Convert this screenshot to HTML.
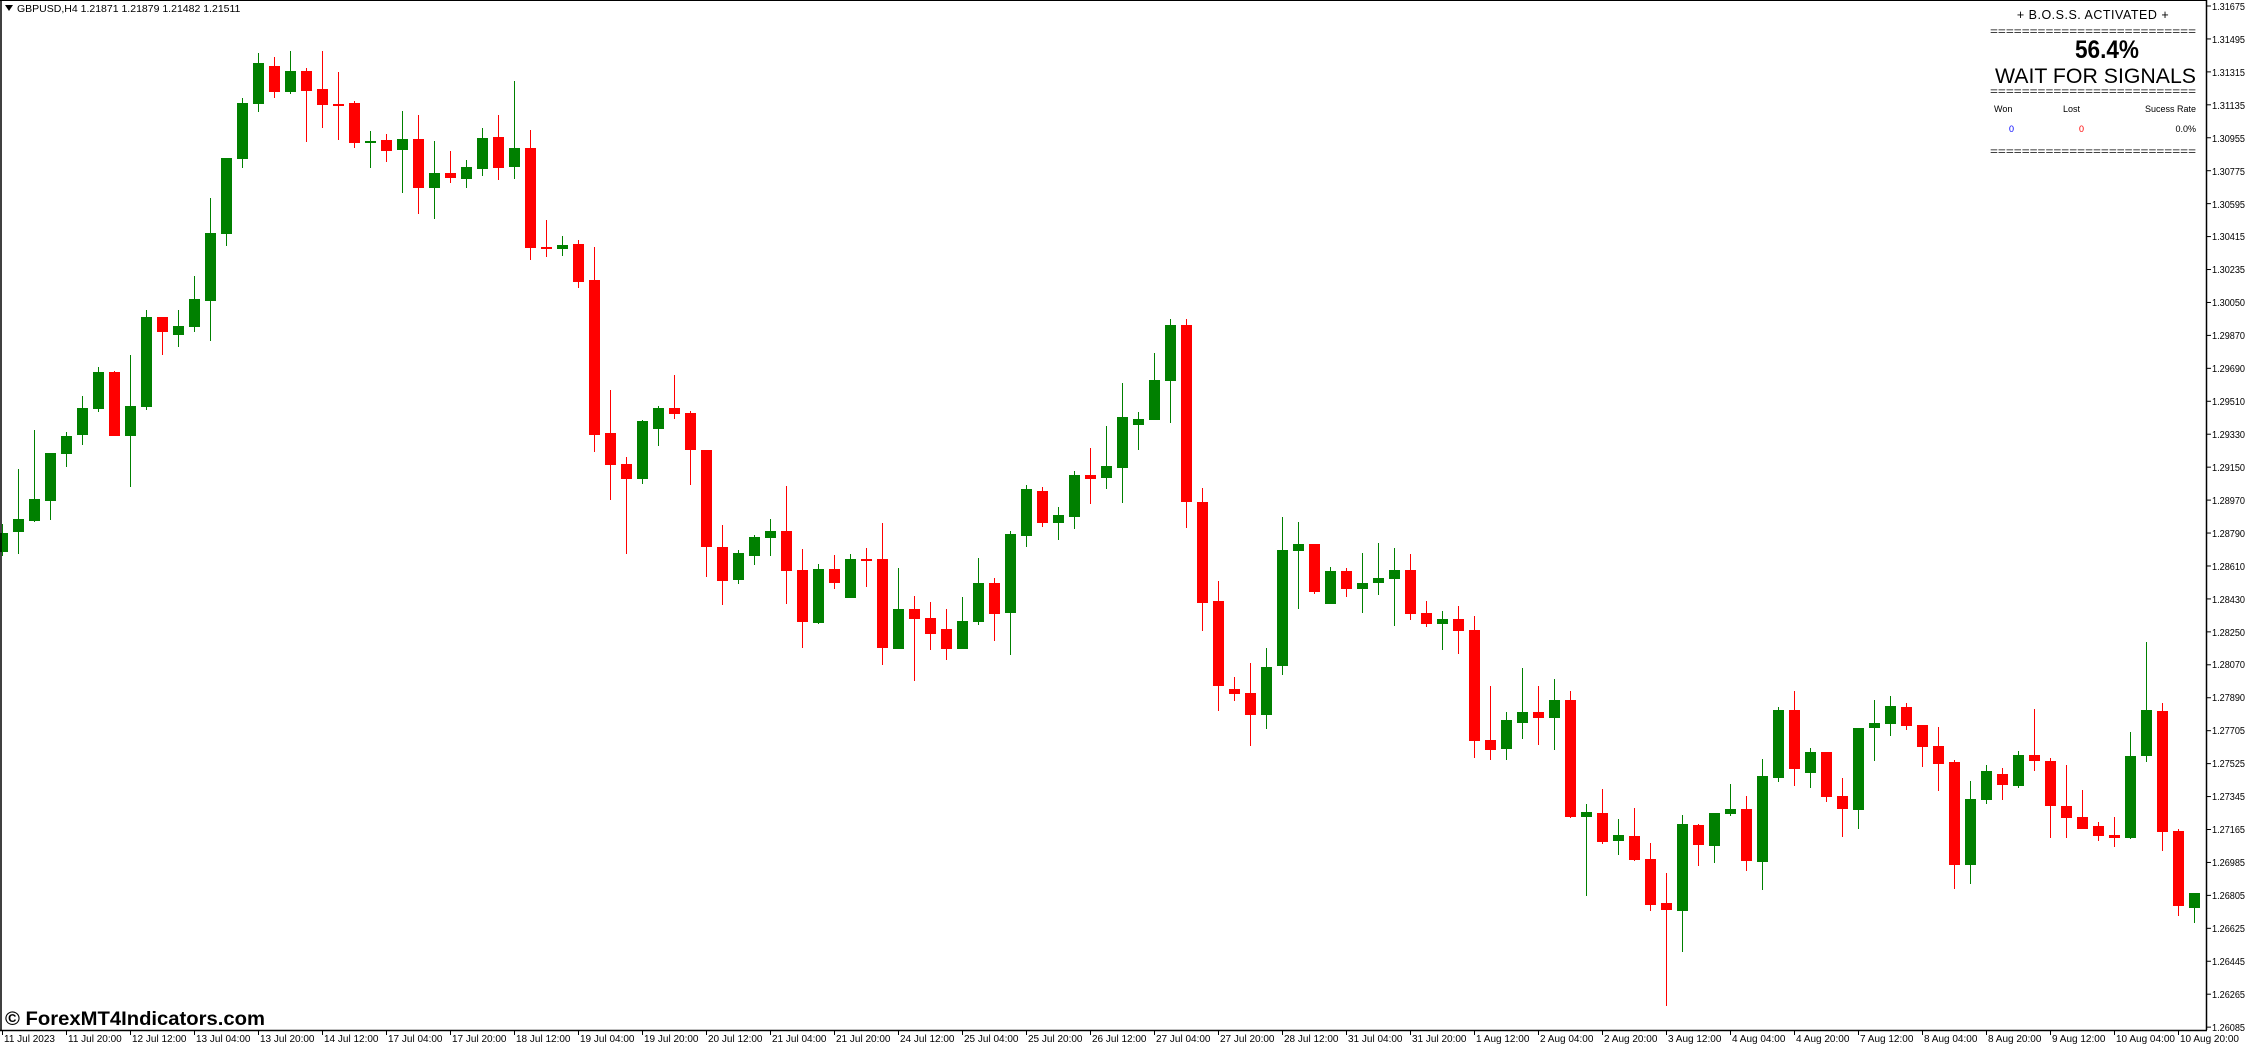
<!DOCTYPE html>
<html><head><meta charset="utf-8"><style>
html,body{margin:0;padding:0;background:#fff;}
svg{display:block;}
text{font-family:"Liberation Sans","DejaVu Sans",sans-serif;}
</style></head><body>
<svg id="s" width="2248" height="1045" viewBox="0 0 2248 1045" xmlns="http://www.w3.org/2000/svg">
<rect x="0" y="0" width="2248" height="1045" fill="#fff"/>
<g id="c"></g>
<line x1="1" y1="0" x2="1" y2="1030" stroke="#000" stroke-width="1.5"/>
<line x1="0" y1="0.5" x2="2207" y2="0.5" stroke="#000" stroke-width="1"/>
<line x1="2206.5" y1="0" x2="2206.5" y2="1030" stroke="#000" stroke-width="1.5"/>
<line x1="0" y1="1030.5" x2="2207" y2="1030.5" stroke="#000" stroke-width="1.5"/>
<g id="ticks"></g>
<g font-size="10" fill="#000">
<text x="2212" y="10" textLength="33" lengthAdjust="spacingAndGlyphs">1.31675</text>
<text x="2212" y="43" textLength="33" lengthAdjust="spacingAndGlyphs">1.31495</text>
<text x="2212" y="76" textLength="33" lengthAdjust="spacingAndGlyphs">1.31315</text>
<text x="2212" y="109" textLength="33" lengthAdjust="spacingAndGlyphs">1.31135</text>
<text x="2212" y="142" textLength="33" lengthAdjust="spacingAndGlyphs">1.30955</text>
<text x="2212" y="175" textLength="33" lengthAdjust="spacingAndGlyphs">1.30775</text>
<text x="2212" y="208" textLength="33" lengthAdjust="spacingAndGlyphs">1.30595</text>
<text x="2212" y="240" textLength="33" lengthAdjust="spacingAndGlyphs">1.30415</text>
<text x="2212" y="273" textLength="33" lengthAdjust="spacingAndGlyphs">1.30235</text>
<text x="2212" y="306" textLength="33" lengthAdjust="spacingAndGlyphs">1.30050</text>
<text x="2212" y="339" textLength="33" lengthAdjust="spacingAndGlyphs">1.29870</text>
<text x="2212" y="372" textLength="33" lengthAdjust="spacingAndGlyphs">1.29690</text>
<text x="2212" y="405" textLength="33" lengthAdjust="spacingAndGlyphs">1.29510</text>
<text x="2212" y="438" textLength="33" lengthAdjust="spacingAndGlyphs">1.29330</text>
<text x="2212" y="471" textLength="33" lengthAdjust="spacingAndGlyphs">1.29150</text>
<text x="2212" y="504" textLength="33" lengthAdjust="spacingAndGlyphs">1.28970</text>
<text x="2212" y="537" textLength="33" lengthAdjust="spacingAndGlyphs">1.28790</text>
<text x="2212" y="570" textLength="33" lengthAdjust="spacingAndGlyphs">1.28610</text>
<text x="2212" y="603" textLength="33" lengthAdjust="spacingAndGlyphs">1.28430</text>
<text x="2212" y="636" textLength="33" lengthAdjust="spacingAndGlyphs">1.28250</text>
<text x="2212" y="668" textLength="33" lengthAdjust="spacingAndGlyphs">1.28070</text>
<text x="2212" y="701" textLength="33" lengthAdjust="spacingAndGlyphs">1.27890</text>
<text x="2212" y="734" textLength="33" lengthAdjust="spacingAndGlyphs">1.27705</text>
<text x="2212" y="767" textLength="33" lengthAdjust="spacingAndGlyphs">1.27525</text>
<text x="2212" y="800" textLength="33" lengthAdjust="spacingAndGlyphs">1.27345</text>
<text x="2212" y="833" textLength="33" lengthAdjust="spacingAndGlyphs">1.27165</text>
<text x="2212" y="866" textLength="33" lengthAdjust="spacingAndGlyphs">1.26985</text>
<text x="2212" y="899" textLength="33" lengthAdjust="spacingAndGlyphs">1.26805</text>
<text x="2212" y="932" textLength="33" lengthAdjust="spacingAndGlyphs">1.26625</text>
<text x="2212" y="965" textLength="33" lengthAdjust="spacingAndGlyphs">1.26445</text>
<text x="2212" y="998" textLength="33" lengthAdjust="spacingAndGlyphs">1.26265</text>
<text x="2212" y="1031" textLength="33" lengthAdjust="spacingAndGlyphs">1.26085</text>
</g>
<g font-size="10" fill="#000">
<text x="4" y="1042">11 Jul 2023</text>
<text x="68" y="1042">11 Jul 20:00</text>
<text x="132" y="1042">12 Jul 12:00</text>
<text x="196" y="1042">13 Jul 04:00</text>
<text x="260" y="1042">13 Jul 20:00</text>
<text x="324" y="1042">14 Jul 12:00</text>
<text x="388" y="1042">17 Jul 04:00</text>
<text x="452" y="1042">17 Jul 20:00</text>
<text x="516" y="1042">18 Jul 12:00</text>
<text x="580" y="1042">19 Jul 04:00</text>
<text x="644" y="1042">19 Jul 20:00</text>
<text x="708" y="1042">20 Jul 12:00</text>
<text x="772" y="1042">21 Jul 04:00</text>
<text x="836" y="1042">21 Jul 20:00</text>
<text x="900" y="1042">24 Jul 12:00</text>
<text x="964" y="1042">25 Jul 04:00</text>
<text x="1028" y="1042">25 Jul 20:00</text>
<text x="1092" y="1042">26 Jul 12:00</text>
<text x="1156" y="1042">27 Jul 04:00</text>
<text x="1220" y="1042">27 Jul 20:00</text>
<text x="1284" y="1042">28 Jul 12:00</text>
<text x="1348" y="1042">31 Jul 04:00</text>
<text x="1412" y="1042">31 Jul 20:00</text>
<text x="1476" y="1042">1 Aug 12:00</text>
<text x="1540" y="1042">2 Aug 04:00</text>
<text x="1604" y="1042">2 Aug 20:00</text>
<text x="1668" y="1042">3 Aug 12:00</text>
<text x="1732" y="1042">4 Aug 04:00</text>
<text x="1796" y="1042">4 Aug 20:00</text>
<text x="1860" y="1042">7 Aug 12:00</text>
<text x="1924" y="1042">8 Aug 04:00</text>
<text x="1988" y="1042">8 Aug 20:00</text>
<text x="2052" y="1042">9 Aug 12:00</text>
<text x="2116" y="1042">10 Aug 04:00</text>
<text x="2180" y="1042">10 Aug 20:00</text>
</g>
<path d="M5 5 L13 5 L9 11 Z" fill="#000"/>
<text x="17" y="12" font-size="10.5" fill="#000">GBPUSD,H4  1.21871 1.21879 1.21482 1.21511</text>
<text x="5" y="1025" font-size="19" font-weight="bold" fill="#000" textLength="260" lengthAdjust="spacingAndGlyphs">© ForexMT4Indicators.com</text>
<g fill="#000">
<text x="2093" y="19" font-size="12.5" text-anchor="middle" letter-spacing="0.5">+ B.O.S.S. ACTIVATED +</text>
<text x="1990" y="35" font-size="11" textLength="206" lengthAdjust="spacingAndGlyphs">==========================</text>
<text x="2107" y="58" font-size="25" font-weight="bold" text-anchor="middle" textLength="64" lengthAdjust="spacingAndGlyphs">56.4%</text>
<text x="1995" y="83" font-size="21" textLength="201" lengthAdjust="spacingAndGlyphs">WAIT FOR SIGNALS</text>
<text x="1990" y="95" font-size="11" textLength="206" lengthAdjust="spacingAndGlyphs">==========================</text>
<text x="1994" y="112" font-size="9">Won</text>
<text x="2063" y="112" font-size="9">Lost</text>
<text x="2196" y="112" font-size="9" text-anchor="end">Sucess Rate</text>
<text x="2009" y="132" font-size="9" fill="#0000ff">0</text>
<text x="2079" y="132" font-size="9" fill="#ff0000">0</text>
<text x="2196" y="132" font-size="9" text-anchor="end">0.0%</text>
<text x="1990" y="155" font-size="11" textLength="206" lengthAdjust="spacingAndGlyphs">==========================</text>
</g>
</svg>
<script>
var D=[
['G',533,552,524,556],['G',519,532,469,554],['G',499,521,430,522],['G',453,501,453,520],['G',436,454,432,467],
['G',408,435,396,445],['G',372,409,367,412],['R',372,436,371,436],['G',406,436,355,487],['G',317,407,310,410],
['R',317,332,317,355],['G',326,335,310,347],['G',299,327,276,332],['G',233,301,198,341],['G',158,234,158,246],
['G',103,159,98,168],['G',63,104,53,112],['R',66,92,57,98],['G',71,92,51,94],['R',71,91,68,142],
['R',89,105,51,128],['R',104,105,72,140],['R',103,143,101,148],['G',141,143,131,168],['R',140,151,134,162],
['G',139,150,111,193],['R',139,188,115,214],['G',173,188,141,219],['R',173,178,151,183],['G',167,179,160,188],
['G',138,169,128,176],['R',137,168,115,180],['G',148,167,81,179],['R',148,248,130,260],['R',247,248,220,257],
['G',245,249,236,256],['R',244,282,240,288],['R',280,435,247,452],['R',433,465,390,500],['R',464,479,457,554],
['G',421,479,420,484],['G',408,429,406,446],['R',408,414,375,419],['R',413,450,411,485],['R',450,547,450,577],
['R',547,581,525,605],['G',553,580,550,584],['G',537,556,535,565],['G',531,538,519,556],['R',531,571,486,604],
['R',570,622,549,648],['G',569,623,564,624],['R',569,583,555,589],['G',559,598,554,598],['R',559,560,548,587],
['R',559,648,523,665],['G',609,649,568,649],['R',609,619,596,681],['R',618,634,602,650],['R',629,649,609,660],
['G',621,649,597,649],['G',583,622,558,625],['R',583,614,578,641],['G',534,613,531,655],['G',489,536,485,547],
['R',491,523,487,527],['G',515,523,507,540],['G',475,517,471,529],['R',475,479,448,504],['G',466,478,426,489],
['G',417,468,383,503],['G',419,425,412,450],['G',380,420,353,420],['G',325,381,319,423],['R',325,502,319,528],
['R',502,603,488,631],['R',601,686,581,711],['R',689,694,677,701],['R',693,715,663,746],['G',667,715,648,729],
['G',550,666,517,675],['G',544,551,522,609],['R',544,592,544,594],['G',571,604,567,604],['R',571,589,568,597],
['G',583,589,553,613],['G',578,583,543,595],['G',570,579,548,626],['R',570,614,554,620],['R',613,624,601,627],
['G',619,624,611,650],['R',619,631,606,654],['R',630,741,616,758],['R',740,750,686,760],['G',720,749,712,760],
['G',712,723,668,739],['R',712,718,686,745],['G',700,718,679,750],['R',700,817,691,818],['G',812,817,804,896],
['R',813,842,789,844],['G',835,841,819,855],['R',836,860,808,861],['R',859,905,843,911],['R',903,910,873,1006],
['G',824,911,815,952],['R',825,845,824,866],['G',813,846,813,863],['G',809,814,784,816],['R',809,861,796,871],
['G',776,862,759,890],['G',710,778,707,782],['R',710,769,691,786],['G',752,773,748,788],['R',752,797,752,802],
['R',796,809,778,837],['G',728,810,728,829],['G',723,728,700,761],['G',706,724,696,736],['R',707,726,703,730],
['R',725,747,725,767],['R',746,764,727,791],['R',762,865,760,889],['G',799,865,781,884],['G',771,800,765,804],
['R',774,785,768,800],['G',755,786,751,788],['R',755,761,709,771],['R',761,806,758,838],['R',806,818,765,838],
['R',817,829,790,829],['R',826,836,822,841],['R',835,838,817,847],['G',756,838,732,839],['G',710,756,642,762],
['R',711,832,703,851],['R',831,906,829,916],['G',893,908,893,923]
];
var ns="http://www.w3.org/2000/svg",g=document.getElementById('c');
function r(x,y,w,h,f){var e=document.createElementNS(ns,'rect');e.setAttribute('x',x);e.setAttribute('y',y);e.setAttribute('width',w);e.setAttribute('height',h);e.setAttribute('fill',f);g.appendChild(e);}
D.forEach(function(d,i){var f=d[0]=='G'?'#008000':'#ff0000';var x=16*i;
r(x+2,d[3],1,Math.max(1,d[4]-d[3]),f);
var h=d[2]-d[1];if(h<2)h=2;r(x-3,d[1],11,h,f);});
var t=document.getElementById('ticks');
for(var k=0;k<32;k++){var y=6+32.94*k;var l=document.createElementNS(ns,'line');l.setAttribute('x1',2206);l.setAttribute('x2',2211);l.setAttribute('y1',y);l.setAttribute('y2',y);l.setAttribute('stroke','#000');t.appendChild(l);}
for(var k=0;k<35;k++){var x=2.5+64*k;var l=document.createElementNS(ns,'line');l.setAttribute('x1',x);l.setAttribute('x2',x);l.setAttribute('y1',1030);l.setAttribute('y2',1035);l.setAttribute('stroke','#000');t.appendChild(l);}
</script>
</body></html>
